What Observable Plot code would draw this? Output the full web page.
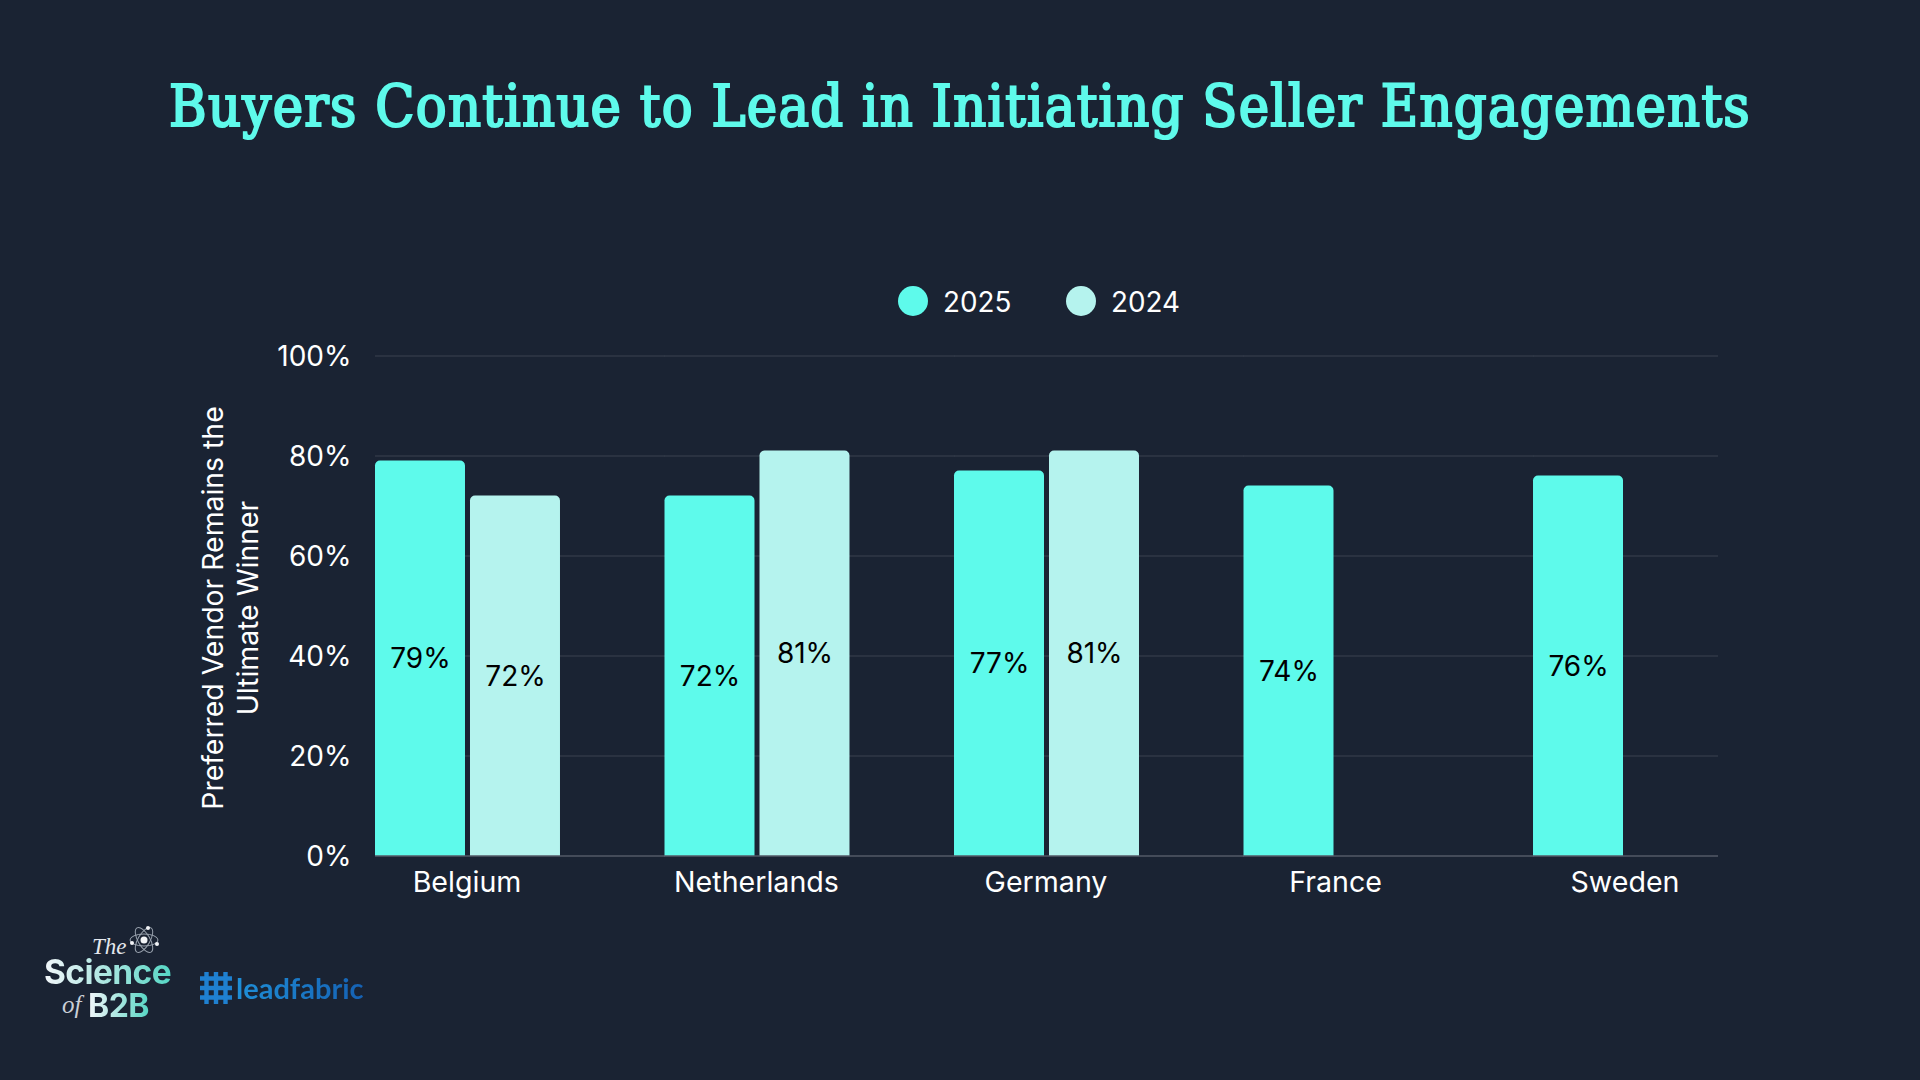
<!DOCTYPE html>
<html>
<head>
<meta charset="utf-8">
<script src="https://cdn.jsdelivr.net/npm/d3@7"></script>
<script src="https://cdn.jsdelivr.net/npm/@observablehq/plot@0.6"></script>
<style>
  html, body { margin: 0; padding: 0; background: #1a2333; width: 1920px; height: 1080px; overflow: hidden; }
  body { position: relative; font-family: Inter, sans-serif; color: #fff; }
  h1 { position: absolute; left: 0; top: 70px; width: 1920px; margin: 0; text-align: center;
       font: 400 57px/72px "DejaVu Serif Condensed", "DejaVu Serif", serif; font-stretch: condensed; color: #5efaeb; white-space: nowrap;
       -webkit-text-stroke: 2.1px #5efaeb; letter-spacing: 1.3px; }
  .lg { position: absolute; top: 286px; width: 30px; height: 30px; border-radius: 50%; }
  .lgt { position: absolute; top: 286px; font: 400 27.8px/32px Inter, sans-serif; color: #fff; }
  #chart { position: absolute; left: 0; top: 330px; }
  .abs { position: absolute; white-space: nowrap; }
  .grad { background: linear-gradient(90deg, #f2f6fa 0%, #a9e6e0 50%, #55d6c4 100%); -webkit-background-clip: text; background-clip: text; color: transparent; }
</style>
</head>
<body>
<h1>Buyers Continue to Lead in Initiating Seller Engagements</h1>
<div id="legend"></div>
<div id="chart"></div>

<div class="abs" style="left:92px;top:932px;font:italic 400 23px/30px 'Liberation Serif',serif;color:#e4e8ee">The</div>
<svg class="abs" style="left:128px;top:924px" width="32" height="32" viewBox="-16 -16 32 32" fill="none" stroke="#9aa3af" stroke-width="1">
  <ellipse rx="14" ry="6"/><ellipse rx="14" ry="6" transform="rotate(60)"/><ellipse rx="14" ry="6" transform="rotate(-60)"/>
  <circle r="3.5" fill="#f2f4f7" stroke="none"/><circle cx="-12" cy="3" r="2" fill="#f2f4f7" stroke="none"/>
  <circle cx="13" cy="4" r="2" fill="#f2f4f7" stroke="none"/><circle cx="4" cy="-12" r="2" fill="#f2f4f7" stroke="none"/>
</svg>
<div class="abs grad" style="left:44px;top:951px;font:700 33.5px/42px Inter,sans-serif;letter-spacing:-0.6px">Science</div>
<div class="abs" style="left:62px;top:990px;font:italic 400 25px/30px 'Liberation Serif',serif;color:#c9ced6">of</div>
<div class="abs grad" style="left:88px;top:986px;font:700 32px/40px Inter,sans-serif;letter-spacing:-0.5px">B2B</div>
<svg class="abs" style="left:200px;top:972px" width="32" height="32" viewBox="0 0 32 32" stroke="#1f80d0" stroke-width="4.4" fill="none">
  <path d="M6.5 0V32M16 0V32M25.5 0V32M0 6.5H32M0 16H32M0 25.5H32"/>
</svg>
<div class="abs" style="left:236px;top:970px;font:700 29px/36px Lato,sans-serif;background:linear-gradient(90deg,#1f8fd8,#1561b3);-webkit-background-clip:text;background-clip:text;color:transparent">leadfabric</div>

<script>
const countries = ["Belgium", "Netherlands", "Germany", "France", "Sweden"];
const years = ["2025", "2024"];
const values2025 = [79, 72, 77, 74, 76];
const values2024 = [72, 81, 81, null, null];
const yTicks = [0, 20, 40, 60, 80, 100];
const yLabel = "Preferred Vendor Remains the\nUltimate Winner";
const colors = ["#5efaeb", "#b5f3ee"];

const rows = [];
countries.forEach((country, i) => {
  rows.push({country, year: years[0], value: values2025[i]});
  if (values2024[i] != null) rows.push({country, year: years[1], value: values2024[i]});
});
const gridRows = countries.flatMap(country => yTicks.map(tick => ({country, tick})));
const lastCountry = countries[countries.length - 1];
const inner = gridRows.filter(d => d.country !== lastCountry);
const last = gridRows.filter(d => d.country === lastCountry);

const legend = document.getElementById("legend");
const legendPos = [[898, 943], [1066, 1111]];
years.forEach((y, i) => {
  const c = document.createElement("div");
  c.className = "lg"; c.style.left = legendPos[i][0] + "px"; c.style.background = colors[i];
  const t = document.createElement("div");
  t.className = "lgt"; t.style.left = legendPos[i][1] + "px"; t.textContent = y;
  legend.append(c, t);
});

const bandGap = 105;
const gridStyle = {fx: "country", y: "tick", stroke: "#3b4351", strokeWidth: 1.2};
const baseStyle = {fx: "country", y: "tick", stroke: "#6e7480", strokeWidth: 1.2};
const chart = Plot.plot({
  width: 1920,
  height: 580,
  marginTop: 25.5,
  marginBottom: 54.5,
  marginLeft: 375,
  marginRight: 202,
  style: {background: "transparent", color: "#fff", fontFamily: "Inter, sans-serif", fontSize: "28px"},
  fx: {domain: countries, paddingInner: 0.361, paddingOuter: 0, round: false, label: null},
  x: {domain: years, type: "band", paddingInner: 5 / 95, paddingOuter: 0, round: false, axis: null},
  y: {domain: [0, 100], label: null},
  color: {domain: years, range: colors},
  marks: [
    Plot.ruleY(inner.filter(d => d.tick > 0), {...gridStyle, insetRight: -bandGap}),
    Plot.ruleY(last.filter(d => d.tick > 0), gridStyle),
    Plot.barY(rows, {fx: "country", x: "year", y: "value", fill: "year", ry1: 5}),
    Plot.ruleY(inner.filter(d => d.tick === 0), {...baseStyle, insetRight: -bandGap}),
    Plot.ruleY(last.filter(d => d.tick === 0), baseStyle),
    Plot.text(rows, {fx: "country", x: "year", y: d => d.value / 2, text: d => d.value + "%", fill: "#000", fontSize: 28, dy: 1}),
    Plot.axisY({ticks: yTicks, tickSize: 0, tickPadding: 24, tickFormat: d => d + "%", label: null, fontSize: 28, fontVariant: "normal", anchor: "left", dy: 1}),
    Plot.axisFx({anchor: "bottom", tickSize: 0, tickPadding: 16, label: null, fontSize: 28.6, dx: -1}),
    Plot.text([yLabel], {frameAnchor: "left", textAnchor: "middle", rotate: -90, dx: -146, dy: 2, fontSize: 28.4, lineHeight: 1.23, fill: "#fff", facet: "super"})
  ]
});
document.getElementById("chart").append(chart);
</script>
</body>
</html>
